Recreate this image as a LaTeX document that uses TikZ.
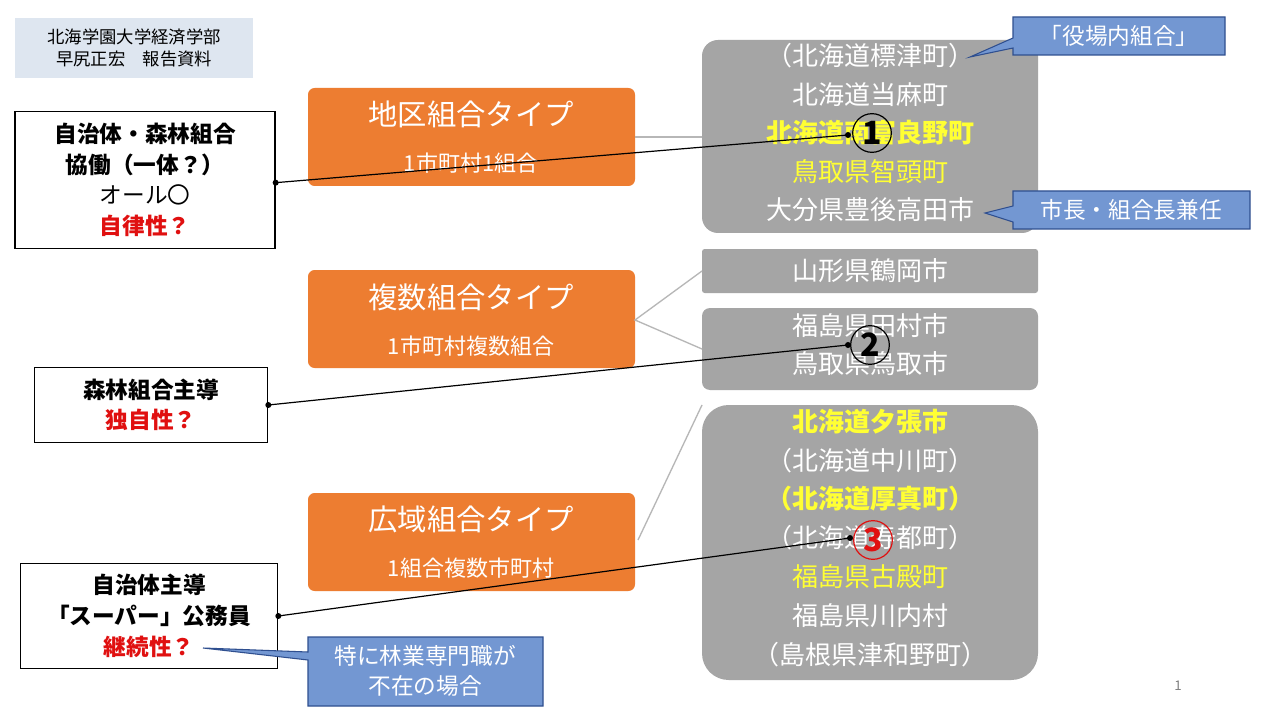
\documentclass[tikz,border=0pt]{standalone}
\usepackage{fontspec}
\setmainfont{Noto Sans CJK JP}
\begin{document}
\begin{tikzpicture}[x=0.75pt,y=-0.75pt,
  orangebox/.style={fill=orgc,rounded corners=5pt,draw=none},
  graybox/.style={fill=grayc,draw=none},
  leftbox/.style={draw=black,line width=1pt,fill=white},
  callout/.style={fill=bluec,draw=blueb,line width=0.8pt},
  gl/.style={font=\fontsize{19.5}{22}\selectfont,text=white},
  yl/.style={font=\fontsize{19.5}{22}\selectfont,text=yelc},
  ybl/.style={font=\fontsize{19.5}{22}\selectfont\bfseries,text=yelc},
  conn/.style={draw=grayc!80,line width=1pt},
  blk/.style={draw=black,line width=0.9pt},
  dot/.style={circle,fill=black,inner sep=1.6pt},
  numc/.style={circle,line width=0.9pt,minimum size=29pt,inner sep=0pt,font=\fontsize{24}{24}\selectfont\bfseries},
]
\definecolor{orgc}{HTML}{ED7D31}
\definecolor{grayc}{HTML}{A5A5A5}
\definecolor{bluec}{HTML}{7397D2}
\definecolor{blueb}{HTML}{2F4F8F}
\definecolor{yelc}{HTML}{FFFF33}
\definecolor{redc}{HTML}{E01010}
\definecolor{hdrc}{HTML}{DEE6F0}
\useasboundingbox (0,0) rectangle (1280,720);
\fill[white] (0,0) rectangle (1280,720);
% header
\fill[hdrc] (15,18) rectangle (253,78);
\node (hdr) at (134,48) [align=center,font=\fontsize{13}{17}\selectfont] {北海学園大学経済学部\\早尻正宏　報告資料};
% orange boxes
\fill[orangebox] (308,88) rectangle (635,186);
\node at (471,114) [font=\fontsize{22}{24}\selectfont,text=white] {地区組合タイプ};
\node at (471,163) [font=\fontsize{16.5}{18}\selectfont,text=white] {1市町村1組合};
\fill[orangebox] (308,270) rectangle (635,368);
\node at (471,297) [font=\fontsize{22}{24}\selectfont,text=white] {複数組合タイプ};
\node at (471,346) [font=\fontsize{16.5}{18}\selectfont,text=white] {1市町村複数組合};
\fill[orangebox] (308,493) rectangle (635,591);
\node at (471,519) [font=\fontsize{22}{24}\selectfont,text=white] {広域組合タイプ};
\node at (471,568) [font=\fontsize{16.5}{18}\selectfont,text=white] {1組合複数市町村};
% gray boxes
\fill[graybox,rounded corners=12pt] (702,40) rectangle (1038,233);
\fill[graybox,rounded corners=2pt] (702,249) rectangle (1038,293);
\fill[graybox,rounded corners=6pt] (702,308) rectangle (1038,390);
\fill[graybox,rounded corners=20pt] (702,405) rectangle (1038,680);
% connectors
\coordinate (a1) at (635,137); \coordinate (b1) at (702,137);
\coordinate (a2) at (635,320); \coordinate (b2) at (702,271); \coordinate (c2) at (702,349);
\coordinate (a3) at (638,540); \coordinate (b3) at (702,405);
\draw[conn] (a1) -- (b1);
\draw[conn] (b2) -- (a2) -- (c2);
\draw[conn] (a3) -- (b3);
% gray box texts
\node[gl] at (870,56) {（北海道標津町）};
\node[gl] at (870,95) {北海道当麻町};
\node[ybl] at (870,133) {北海道南富良野町};
\node[yl] at (870,172) {鳥取県智頭町};
\node[gl] (bungo) at (870,210) {大分県豊後高田市};
\node[gl] at (870,271) {山形県鶴岡市};
\node[gl] at (870,326) {福島県田村市};
\node[gl] at (870,364) {鳥取県鳥取市};
\node[ybl] at (870,422) {北海道夕張市};
\node[gl] at (870,461) {（北海道中川町）};
\node[ybl] at (870,499) {（北海道厚真町）};
\node[gl] at (870,538) {（北海道寿都町）};
\node[yl] at (870,577) {福島県古殿町};
\node[gl] at (870,616) {福島県川内村};
\node[gl] at (870,655) {（島根県津和野町）};
% circles
\node (n1) at (872,133) [numc,draw=black] {1};
\node (n2) at (870,345) [numc,draw=black] {2};
\node (n3) at (873,540) [numc,draw=redc,text=redc] {3};
% left boxes
\node (l1) [leftbox,minimum width=195pt,minimum height=103pt,align=center,font=\fontsize{17}{23}\selectfont] at (145,180)
 {\textbf{自治体・森林組合}\\\textbf{協働（一体？）}\\オール〇\\\textcolor{redc}{\textbf{自律性？}}};
\node (l2) [leftbox,minimum width=175pt,minimum height=56pt,align=center,font=\fontsize{17}{23}\selectfont] at (151,405)
 {\textbf{森林組合主導}\\\textcolor{redc}{\textbf{独自性？}}};
\node (l3) [leftbox,minimum width=193pt,minimum height=79pt,align=center,font=\fontsize{17}{23}\selectfont] at (149,616)
 {\textbf{自治体主導}\\\textbf{「スーパー」公務員}\\\textcolor{redc}{\textbf{継続性？}}};
% black lines
\coordinate (e1) at (848,135); \coordinate (e2) at (848,345); \coordinate (e3) at (850,538);
\coordinate (s1) at ([yshift=-2pt]l1.east);
\draw[blk] (s1) -- (e1);
\draw[blk] (l2.east) -- (e2);
\draw[blk] (l3.east) -- (e3);
\node[dot] at (s1) {}; \node[dot] at (e1) {};
\node[dot] at (l2.east) {}; \node[dot] at (e2) {};
\node[dot] at (l3.east) {}; \node[dot] at (e3) {};
% callouts
\draw[callout] (1013,17) -- (1225,17) -- (1225,55) -- (1013,55) -- (1013,48) -- (970,57) -- (1013,38) -- cycle;
\node (c1) at (1119,36) [text=white,font=\fontsize{17}{18}\selectfont] {「役場内組合」};
\draw[callout] (1013,191) -- (1250,191) -- (1250,229) -- (1013,229) -- (1013,222) -- (985,213) -- (1013,206) -- cycle;
\node (c2) at (1131,210) [text=white,font=\fontsize{17}{18}\selectfont] {市長・組合長兼任};
\draw[callout] (308,637) -- (543,637) -- (543,706) -- (308,706) -- (308,660) -- (203,648) -- (308,652) -- cycle;
\node (c3) at (425,671) [text=white,align=center,font=\fontsize{17}{22}\selectfont] {特に林業専門職が\\不在の場合};
\node (pg) at (1178,686) [text=gray,font=\fontsize{10}{12}\selectfont] {1};
\end{tikzpicture}
\end{document}
